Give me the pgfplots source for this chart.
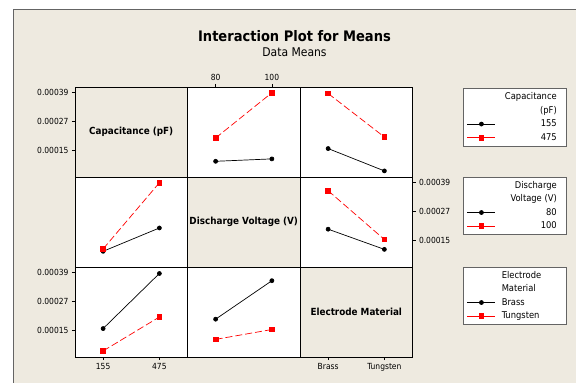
\documentclass[border=0pt]{standalone}
\usepackage{fontspec}
\setmainfont{DejaVu Sans Condensed}
\usepackage{pgfplots}
\pgfplotsset{compat=1.18}
\definecolor{bg}{RGB}{238,234,224}
\definecolor{framec}{RGB}{100,100,100}
\newcommand\lr[1]{\makebox[63.5pt][r]{#1\hspace{5pt}}}
\newcommand\lft[1]{\makebox[63.5pt][l]{\hspace{3.5pt}#1}}
\tikzset{lab/.style={font=\bfseries\fontsize{9.8}{11}\selectfont}}
\pgfplotsset{
 cell/.style={scale only axis, width=112.5pt, height=90pt, xmin=-0.5, xmax=1.5,
   ymin=0.0000377, ymax=0.000412, anchor=south west,
   axis line style={black, line width=0.8pt}, tick align=outside, major tick length=3pt,
   tick style={black, line width=0.6pt}, xtick=\empty, ytick=\empty,
   scaled y ticks=false, scaled x ticks=false,
   tick label style={font=\fontsize{8.4}{9}\selectfont},
   axis background/.style={fill=white}},
 diag/.style={cell, axis background/.style={fill=bg}},
 yt/.style={ytick={0.00015,0.00027,0.00039}, yticklabels={0.00015,0.00027,0.00039}},
 s1/.style={black, line width=0.7pt, mark=*, mark size=2pt},
 s2/.style={red, line width=0.7pt, dash pattern=on 7pt off 3pt, mark=square*, mark size=2.3pt, mark options={solid}},
 leg/.style={legend style={at={#1}, anchor=north west, draw=framec, line width=0.8pt, fill=white,
   font=\fontsize{9.3}{10}\selectfont, inner xsep=4pt, inner ysep=3.4pt, row sep=3.5pt, column sep=2pt,
   nodes={inner sep=0.5pt, text height=7pt, text depth=2pt}},
   legend image code/.code={\draw[mark repeat=2, mark phase=2, ##1, solid] plot coordinates {(0pt,0pt) (14pt,0pt) (28pt,0pt)};}}
}
\begin{document}
\begin{tikzpicture}[x=1pt,y=1pt]
\path[use as bounding box] (0,0) rectangle (576,383);
\fill[bg] (13,-1) rectangle (577,374);
\draw[framec, line width=0.8pt] (13,-1) -- (13,374) -- (577,374);
\node[font=\bfseries\fontsize{14.5}{16}\selectfont] at (294.5,347) {Interaction Plot for Means};
\node[font=\fontsize{12}{14}\selectfont] at (294.5,330.5) {Data Means};

% Row 1
\begin{axis}[diag, at={(75pt,206pt)}, yt, ytick pos=left, yticklabel pos=left]
\node[lab] at (rel axis cs:0.5,0.5) {Capacitance (pF)};
\end{axis}
\begin{axis}[cell, at={(187.5pt,206pt)}, xtick={0,1}, xticklabels={80,100}, xtick pos=right, xticklabel pos=right]
\addplot[s1] coordinates {(0,0.000103) (1,0.000113)};
\addplot[s2] coordinates {(0,0.000200) (1,0.000388)};
\end{axis}
\begin{axis}[cell, at={(300pt,206pt)}, leg={(1.446,0.986)}]
\addlegendimage{empty legend}\addlegendentry{\lr{Capacitance}}
\addlegendimage{empty legend}\addlegendentry{\lr{(pF)}}
\addplot[s1] coordinates {(0,0.000156) (1,0.000063)};
\addlegendentry{\lr{155}}
\addplot[s2] coordinates {(0,0.000385) (1,0.000204)};
\addlegendentry{\lr{475}}
\end{axis}

% Row 2
\begin{axis}[cell, at={(75pt,116pt)}]
\addplot[s1] coordinates {(0,0.000103) (1,0.000200)};
\addplot[s2] coordinates {(0,0.000113) (1,0.000388)};
\end{axis}
\begin{axis}[diag, at={(187.5pt,116pt)}]
\node[lab] at (rel axis cs:0.5,0.5) {Discharge Voltage (V)};
\end{axis}
\begin{axis}[cell, at={(300pt,116pt)}, yt, ytick pos=right, yticklabel pos=right, leg={(1.446,1.003)}]
\addlegendimage{empty legend}\addlegendentry{\lr{Discharge}}
\addlegendimage{empty legend}\addlegendentry{\lr{Voltage (V)}}
\addplot[s1] coordinates {(0,0.000195) (1,0.000111)};
\addlegendentry{\lr{80}}
\addplot[s2] coordinates {(0,0.000355) (1,0.000152)};
\addlegendentry{\lr{100}}
\end{axis}

% Row 3
\begin{axis}[cell, at={(75pt,26pt)}, yt, ytick pos=left, yticklabel pos=left, xtick={0,1}, xticklabels={155,475}, xtick pos=left, xticklabel pos=left]
\addplot[s1] coordinates {(0,0.000156) (1,0.000385)};
\addplot[s2] coordinates {(0,0.000063) (1,0.000204)};
\end{axis}
\begin{axis}[cell, at={(187.5pt,26pt)}, leg={(2.446,1.003)}]
\addlegendimage{empty legend}\addlegendentry{\lft{Electrode}}
\addlegendimage{empty legend}\addlegendentry{\lft{Material}}
\addplot[s1] coordinates {(0,0.000195) (1,0.000355)};
\addlegendentry{\lft{Brass}}
\addplot[s2] coordinates {(0,0.000111) (1,0.000152)};
\addlegendentry{\lft{Tungsten}}
\end{axis}
\begin{axis}[diag, at={(300pt,26pt)}, xtick={0,1}, xticklabels={Brass,Tungsten}, xtick pos=left, xticklabel pos=left]
\node[lab] at (rel axis cs:0.5,0.5) {Electrode Material};
\end{axis}
\end{tikzpicture}
\end{document}
